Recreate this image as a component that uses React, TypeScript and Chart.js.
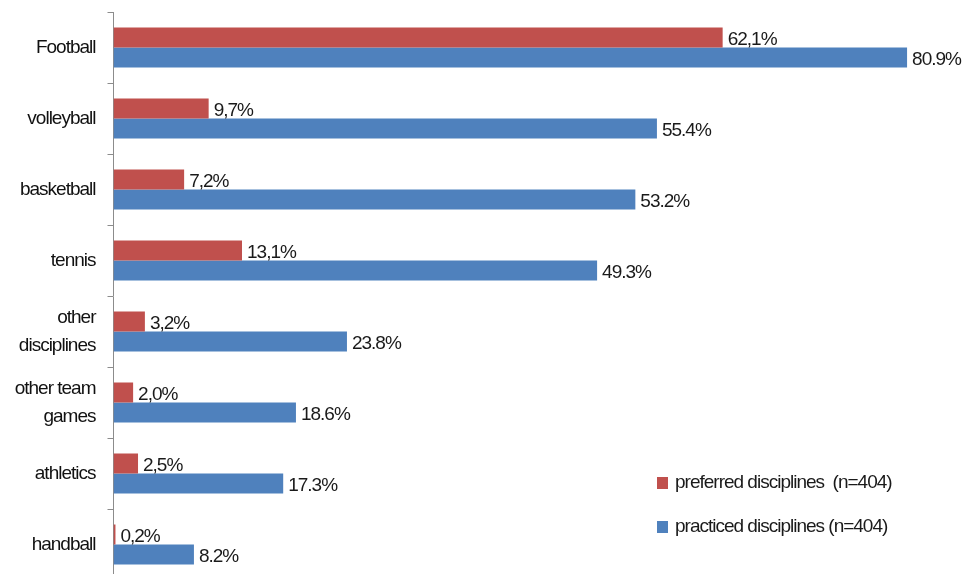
import React, { useEffect, useRef } from "react";
import { Chart, registerables } from "chart.js";

Chart.register(...registerables);

const categories: (string | string[])[] = [
  "Football",
  "volleyball",
  "basketball",
  "tennis",
  ["other", "disciplines"],
  ["other team", "games"],
  "athletics",
  "handball",
];
const preferred = [62.1, 9.7, 7.2, 13.1, 3.2, 2.0, 2.5, 0.2];
const practiced = [80.9, 55.4, 53.2, 49.3, 23.8, 18.6, 17.3, 8.2];
const seriesNames = ["preferred disciplines  (n=404)", "practiced disciplines (n=404)"];
const seriesColors = ["#c0504d", "#4f81bd"];

const FONT = "'Liberation Sans', Arial, sans-serif";
const SPACING = "-1px";

const formatters = [
  (v: number) => v.toFixed(1).replace(".", ",") + "%",
  (v: number) => v.toFixed(1) + "%",
];

const spacingPlugin = {
  id: "spacing",
  beforeDraw(chart: any) {
    (chart.ctx as any).letterSpacing = SPACING;
  },
};

const valueLabelPlugin = {
  id: "valueLabels",
  afterDatasetsDraw(chart: any) {
    const ctx = chart.ctx;
    ctx.save();
    (ctx as any).letterSpacing = SPACING;
    ctx.font = `19px ${FONT}`;
    ctx.fillStyle = "#1a1a1a";
    ctx.textAlign = "left";
    ctx.textBaseline = "middle";
    chart.data.datasets.forEach((ds: any, di: number) => {
      const meta = chart.getDatasetMeta(di);
      meta.data.forEach((el: any, i: number) => {
        ctx.fillText(formatters[di](ds.data[i]), el.x + 5, el.y + 2);
      });
    });
    ctx.restore();
  },
};

const legendPlugin = {
  id: "customLegend",
  afterDraw(chart: any) {
    const ctx = chart.ctx;
    ctx.save();
    (ctx as any).letterSpacing = SPACING;
    ctx.font = `19px ${FONT}`;
    ctx.textBaseline = "middle";
    ctx.textAlign = "left";
    const x0 = 657;
    const y0 = 483;
    const gap = 44;
    chart.data.datasets.forEach((ds: any, i: number) => {
      const y = y0 + i * gap;
      ctx.fillStyle = ds.backgroundColor;
      ctx.fillRect(x0, y - 6, 11, 12);
      ctx.fillStyle = "#1a1a1a";
      ctx.fillText(ds.label, x0 + 18, y);
    });
    ctx.restore();
  },
};

export default function App() {
  const ref = useRef<HTMLCanvasElement | null>(null);
  useEffect(() => {
    if (!ref.current) return;
    const chart = new Chart(ref.current, {
      type: "bar",
      data: {
        labels: categories as any,
        datasets: [
          {
            label: seriesNames[0],
            data: preferred,
            backgroundColor: seriesColors[0],
            borderWidth: 0,
            categoryPercentage: 0.56,
            barPercentage: 1,
          },
          {
            label: seriesNames[1],
            data: practiced,
            backgroundColor: seriesColors[1],
            borderWidth: 0,
            categoryPercentage: 0.56,
            barPercentage: 1,
          },
        ],
      },
      options: {
        indexAxis: "y",
        responsive: false,
        animation: false,
        layout: { padding: { top: 12, right: 2, left: 0, bottom: 0 } },
        plugins: {
          legend: { display: false },
          tooltip: { enabled: false },
        },
        scales: {
          x: {
            display: false,
            min: 0,
            max: 86.5,
          },
          y: {
            afterFit(scale: any) {
              scale.width = 113.5;
              scale.paddingTop = 0;
              scale.paddingBottom = 0;
            },
            border: { display: true, color: "#8c8c8c", width: 1 },
            grid: {
              display: true,
              drawOnChartArea: false,
              drawTicks: true,
              tickLength: 6,
              color: "#8c8c8c",
              offset: true,
            },
            ticks: {
              padding: 12,
              color: "#111",
              font: { family: FONT, size: 19, lineHeight: 1.45 },
            },
          },
        },
      },
      plugins: [spacingPlugin, valueLabelPlugin, legendPlugin],
    });
    return () => chart.destroy();
  }, []);

  return (
    <div
      style={{
        position: "fixed",
        left: 0,
        top: 0,
        width: 964,
        height: 574,
        overflow: "hidden",
        background: "#fff",
      }}
    >
      <canvas ref={ref} width={964} height={580} style={{ display: "block" }} />
    </div>
  );
}
